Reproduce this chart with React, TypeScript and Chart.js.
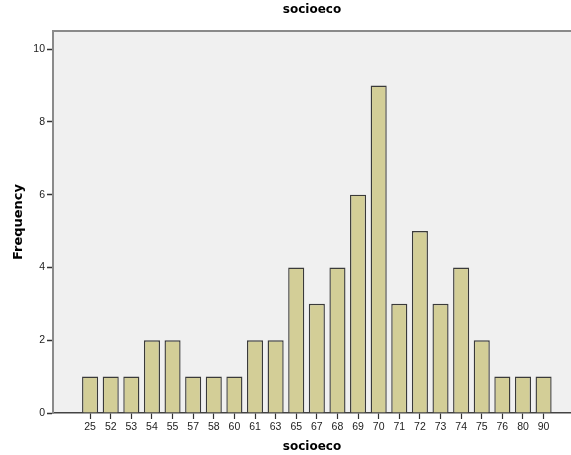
import React, { useEffect, useRef } from "react";
import { Chart, registerables } from "chart.js";

Chart.register(...registerables);

const categories = ["25", "52", "53", "54", "55", "57", "58", "60", "61", "63", "65", "67", "68", "69", "70", "71", "72", "73", "74", "75", "76", "80", "90"];
const frequencies = [1, 1, 1, 2, 2, 1, 1, 1, 2, 2, 4, 3, 4, 6, 9, 3, 5, 3, 4, 2, 1, 1, 1];
const yTicks = [0, 2, 4, 6, 8, 10];

const plotBg = {
  id: "plotBg",
  beforeDraw(chart: any) {
    const { ctx, chartArea } = chart;
    ctx.save();
    ctx.fillStyle = "#f0f0f0";
    ctx.fillRect(chartArea.left, chartArea.top, chartArea.right - chartArea.left, chartArea.bottom - chartArea.top);
    ctx.strokeStyle = "#8a8a8a";
    ctx.lineWidth = 2;
    ctx.beginPath();
    ctx.moveTo(chartArea.left - 1, chartArea.top);
    ctx.lineTo(chartArea.right, chartArea.top);
    ctx.stroke();
    ctx.restore();
  },
};

export default function App() {
  const ref = useRef<HTMLCanvasElement>(null);
  useEffect(() => {
    if (!ref.current) return;
    const chart = new Chart(ref.current, {
      type: "bar",
      data: {
        datasets: [
          {
            data: frequencies.map((v, i) => ({ x: i, y: v })),
            backgroundColor: "#d3ce97",
            borderColor: "#3a3a3a",
            borderWidth: 1.4,
            categoryPercentage: 1,
            barPercentage: 0.78,
          },
        ],
      },
      options: {
        animation: false,
        responsive: false,
        layout: { padding: 0 },
        plugins: {
          legend: { display: false },
          tooltip: { enabled: false },
          title: {
            display: true,
            text: "socioeco",
            fullSize: false,
            color: "#000",
            font: { family: "DejaVu Sans", size: 12, weight: "bold" },
            padding: { top: 3, bottom: 13.6 },
          },
        },
        scales: {
          x: {
            type: "linear",
            min: -1.8,
            max: 23.33,
            offset: false,
            afterFit: (s: any) => {
              s.height = 42;
            },
            afterBuildTicks: (s: any) => {
              s.ticks = categories.map((_, i) => ({ value: i }));
            },
            grid: { offset: false, drawOnChartArea: false, drawTicks: true, tickLength: 6, color: "#333", tickWidth: 1.2 },
            border: { color: "#444", width: 1.5 },
            ticks: {
              autoSkip: false,
              maxRotation: 0,
              padding: 2,
              color: "#222",
              font: { family: "Liberation Sans", size: 10.5 },
              callback: (v: any) => categories[v as number] ?? "",
            },
            title: {
              display: true,
              text: "socioeco",
              color: "#000",
              font: { family: "DejaVu Sans", size: 12, weight: "bold" },
              padding: { top: 0, bottom: 1 },
            },
          },
          y: {
            min: 0,
            max: 10.5,
            afterFit: (s: any) => {
              s.width = 53;
            },
            afterBuildTicks: (s: any) => {
              s.ticks = yTicks.map((v) => ({ value: v }));
            },
            grid: { drawOnChartArea: false, drawTicks: true, tickLength: 6, color: "#333", tickWidth: 1.5 },
            border: { color: "#8a8a8a", width: 2 },
            ticks: {
              padding: 2,
              color: "#222",
              font: { family: "Liberation Sans", size: 10.5 },
            },
            title: {
              display: true,
              text: "Frequency",
              color: "#000",
              font: { family: "DejaVu Sans", size: 13, weight: "bold" },
              padding: { top: 11, bottom: 0 },
            },
          },
        },
      },
      plugins: [plotBg],
    });
    return () => chart.destroy();
  }, []);
  return (
    <div style={{ position: "fixed", left: 0, top: 0, width: 571, height: 455, background: "#fff" }}>
      <canvas ref={ref} width={571} height={455} style={{ width: 571, height: 455 }} />
    </div>
  );
}
